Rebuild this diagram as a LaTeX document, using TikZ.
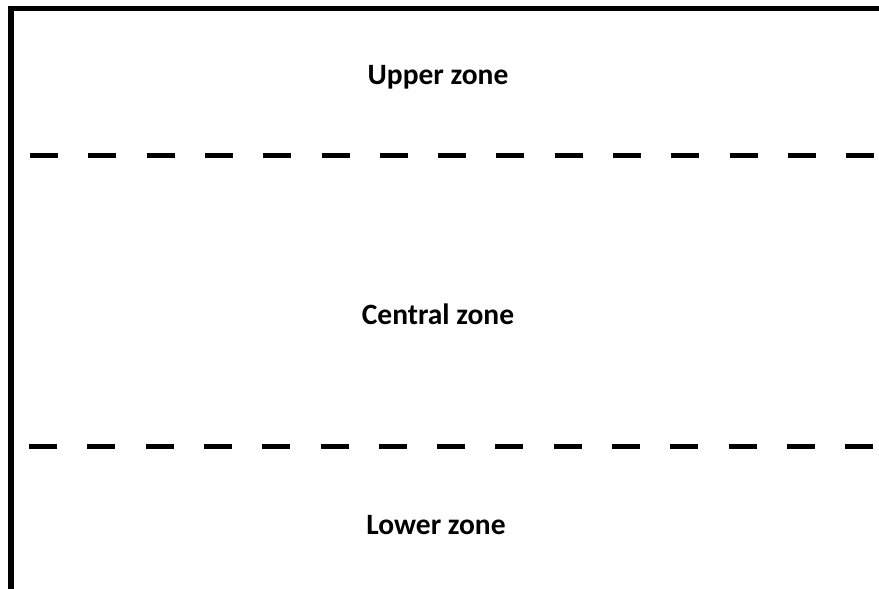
\documentclass[tikz,border=0pt]{standalone}
\usepackage{fontspec}
\setmainfont{Carlito}
\begin{document}
\begin{tikzpicture}[x=1pt,y=-1pt,line cap=butt,
  zone/.style={font=\fontsize{29.5}{34}\selectfont\bfseries,anchor=base,inner sep=0pt},
  divider/.style={line width=5pt,dash pattern=on 28pt off 30.3pt}]
  \useasboundingbox[fill=white] (0,0) rectangle (879,589);
  % open frame: top and left edges only
  \draw[line width=5.5pt] (11,589) -- (11,8.5) -- (879,8.5);
  % zone borders
  \draw[divider] (30,155) -- (879,155);
  \draw[divider] (29,446) -- (879,446);
  \node[zone] (upper) at (438,84) {Upper zone};
  \node[zone] (central) at (438,324) {Central zone};
  \node[zone] (lower) at (436,534) {Lower zone};
\end{tikzpicture}
\end{document}
